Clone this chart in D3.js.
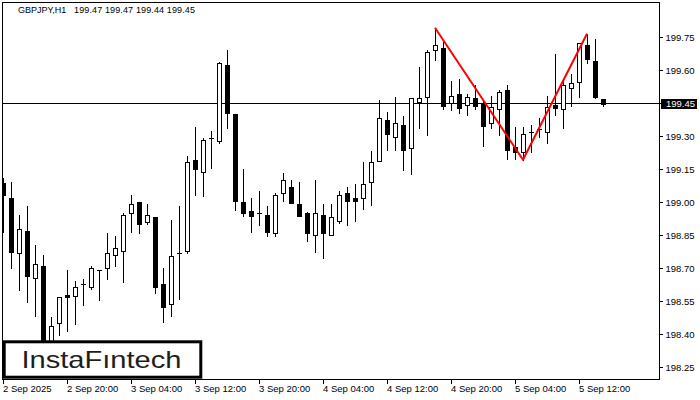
<!DOCTYPE html>
<html>
<head>
<meta charset="utf-8">
<script src="https://cdn.jsdelivr.net/npm/d3@7"></script>
<style>
  html, body { margin: 0; padding: 0; background: #fff; }
  svg { display: block; }
  text { font-family: "Liberation Sans", Arial, sans-serif; }
</style>
</head>
<body>
<svg id="chart" width="700" height="400"></svg>
<script>
// ---- data ----
const symbolName = "GBPJPY,H1";
const ohlcTitle = "199.47 199.47 199.44 199.45";
const currentPrice = 199.45;

const opens = [199.090,199.021,198.771,198.871,198.658,198.712,198.308,198.453,198.581,198.576,
  198.631,198.617,198.694,198.703,198.762,198.781,198.953,199.003,198.912,198.935,
  198.631,198.540,198.771,198.781,199.194,199.140,199.294,199.281,199.626,199.403,
  199.003,198.962,198.953,198.944,198.862,199.044,199.071,198.994,198.953,198.853,
  198.944,198.853,198.917,199.044,199.021,199.021,199.094,199.190,199.376,199.299,
  199.353,199.249,199.458,199.481,199.694,199.703,199.453,199.494,199.444,199.476,
  199.453,199.362,199.426,199.512,199.253,199.231,199.321,199.335,199.321,199.444,
  199.426,199.521,199.549,199.717,199.644,199.47];
const highs = [199.112,199.094,198.944,198.985,198.808,198.762,198.481,198.571,198.694,198.644,
  198.653,198.712,198.694,198.862,198.849,198.953,199.035,199.003,198.994,198.935,
  198.703,198.921,198.985,199.212,199.344,199.294,199.326,199.640,199.694,199.403,
  199.153,199.021,199.053,198.985,199.044,199.135,199.103,199.094,198.958,199.103,
  198.994,198.994,199.053,199.071,199.085,199.185,199.235,199.467,199.412,199.481,
  199.394,199.476,199.617,199.694,199.794,199.730,199.553,199.562,199.494,199.535,
  199.467,199.485,199.512,199.535,199.344,199.344,199.353,199.385,199.485,199.676,
  199.562,199.585,199.726,199.767,199.744,199.47];
const lows = [198.867,198.703,198.603,198.549,198.485,198.262,198.249,198.399,198.417,198.449,
  198.535,198.608,198.558,198.653,198.712,198.640,198.867,198.862,198.903,198.590,
  198.458,198.485,198.562,198.771,199.035,199.031,199.158,199.271,199.340,198.967,
  198.940,198.867,198.899,198.849,198.849,199.008,198.999,198.940,198.826,198.776,
  198.749,198.853,198.908,198.899,198.917,198.971,198.990,199.190,199.240,199.240,
  199.149,199.131,199.340,199.308,199.649,199.426,199.421,199.408,199.399,199.426,
  199.258,199.340,199.308,199.199,199.199,199.194,199.231,199.299,199.271,199.399,
  199.340,199.440,199.481,199.635,199.476,199.44];
const closes = [199.035,198.776,198.881,198.667,198.721,198.331,198.440,198.571,198.571,198.617,
  198.631,198.703,198.694,198.771,198.794,198.944,198.994,198.903,198.944,198.617,
  198.526,198.758,198.771,199.185,199.153,199.285,199.294,199.635,199.408,199.008,
  198.953,198.940,198.953,198.867,199.035,199.103,198.999,198.940,198.862,198.953,
  198.862,198.935,199.035,199.008,199.008,199.085,199.185,199.385,199.312,199.362,
  199.240,199.476,199.476,199.685,199.717,199.440,199.485,199.431,199.481,199.440,
  199.349,199.435,199.503,199.240,199.231,199.312,199.321,199.335,199.435,199.431,
  199.535,199.544,199.726,199.653,199.481,199.45];

const yTickValues = [198.25,198.40,198.55,198.70,198.85,199.00,199.15,199.30,199.45,199.60,199.75];
const xTickIndex = [0,8,16,24,32,40,48,56,64,72];
const xTickLabels = ["2 Sep 2025","2 Sep 20:00","3 Sep 04:00","3 Sep 12:00","3 Sep 20:00",
  "4 Sep 04:00","4 Sep 12:00","4 Sep 20:00","5 Sep 04:00","5 Sep 12:00"];

// double-top pattern line: candle index and price of each vertex
const patternIndex = [54, 65, 73];
const patternPrice = [199.794, 199.194, 199.767];

const logoText = "InstaF\u0131ntech";

// ---- layout ----
const W = 700, H = 400;
const plot = { left: 2.5, top: 2.5, right: 659.5, bottom: 379.5 };

const svg = d3.select("#chart");

const x = d3.scaleLinear().domain([0, 82]).range([3, 659]);
const y = d3.scaleLinear().domain([198.25, 199.75]).range([367.5, 37.5]);

svg.append("rect").attr("width", W).attr("height", H).attr("fill", "#fff");

svg.append("defs").append("clipPath").attr("id", "plotClip")
  .append("rect").attr("x", 3).attr("y", 3).attr("width", 656).attr("height", 376);

const g = svg.append("g").attr("clip-path", "url(#plotClip)").attr("shape-rendering", "crispEdges");

// current price line
const yc = Math.round(y(currentPrice) - 0.5) + 0.5;
g.append("line").attr("x1", 3).attr("x2", 659).attr("y1", yc).attr("y2", yc)
  .attr("stroke", "#000").attr("stroke-width", 1);

// candles
const idx = d3.range(opens.length);
const cg = g.append("g");
const candle = cg.selectAll("g.c").data(idx).join("g").attr("class", "c");

candle.append("line")
  .attr("x1", i => Math.round(x(i)) + 0.5)
  .attr("x2", i => Math.round(x(i)) + 0.5)
  .attr("y1", i => Math.round(y(highs[i])))
  .attr("y2", i => Math.round(y(lows[i])) + 1)
  .attr("stroke", "#000").attr("stroke-width", 1);

candle.each(function(i) {
  const sel = d3.select(this);
  const cx = Math.round(x(i));
  const yo = Math.round(y(opens[i])), ycl = Math.round(y(closes[i]));
  const top = Math.min(yo, ycl), bot = Math.max(yo, ycl);
  if (bot - top < 1) {
    sel.append("line").attr("x1", cx - 2).attr("x2", cx + 3)
      .attr("y1", top + 0.5).attr("y2", top + 0.5)
      .attr("stroke", "#000").attr("stroke-width", 1);
  } else {
    const bull = closes[i] > opens[i];
    sel.append("rect")
      .attr("x", cx - 1.5).attr("y", top + 0.5)
      .attr("width", 4).attr("height", bot - top)
      .attr("fill", bull ? "#fff" : "#000")
      .attr("stroke", "#000").attr("stroke-width", 1);
  }
});

// pattern line
const line = d3.line().x(d => x(d[0])).y(d => y(d[1]));
svg.append("path")
  .datum(patternIndex.map((v, k) => [v, patternPrice[k]]))
  .attr("d", line)
  .attr("fill", "none").attr("stroke", "#ff0000").attr("stroke-width", 2)
  .attr("stroke-linejoin", "miter");

// plot frame
svg.append("rect")
  .attr("x", plot.left).attr("y", plot.top)
  .attr("width", plot.right - plot.left).attr("height", plot.bottom - plot.top)
  .attr("fill", "none").attr("stroke", "#000").attr("stroke-width", 1)
  .attr("shape-rendering", "crispEdges");

// right axis
const yAxis = d3.axisRight(y).tickValues(yTickValues).tickSize(3).tickPadding(3)
  .tickFormat(d3.format(".2f"));
const ya = svg.append("g").attr("transform", `translate(${plot.right},0)`).call(yAxis);
ya.select(".domain").remove();
ya.selectAll(".tick line").attr("stroke", "#000").attr("shape-rendering", "crispEdges");
ya.selectAll(".tick").attr("transform", d => `translate(0,${Math.round(y(d) - 0.5) + 0.5})`);
ya.selectAll(".tick text").attr("font-size", 9.5).attr("font-family", "Liberation Sans, Arial, sans-serif")
  .attr("fill", "#000");

// current price box
svg.append("rect").attr("x", 661).attr("y", yc - 4.5).attr("width", 36).attr("height", 10)
  .attr("fill", "#000").attr("shape-rendering", "crispEdges");
svg.append("text").attr("x", 666).attr("y", yc).attr("dy", "0.34em")
  .attr("font-size", 9.5).attr("fill", "#fff").text(d3.format(".2f")(currentPrice));

// bottom axis
const xa = svg.append("g");
xTickIndex.forEach((ti, k) => {
  const px = Math.round(x(ti)) + 0.5;
  xa.append("line").attr("x1", px).attr("x2", px).attr("y1", plot.bottom).attr("y2", plot.bottom + 4)
    .attr("stroke", "#000").attr("shape-rendering", "crispEdges");
  xa.append("text").attr("x", Math.round(x(ti))).attr("y", 392)
    .attr("font-size", 9.5).attr("fill", "#000").text(xTickLabels[k]);
});

// title
svg.append("text").attr("x", 18).attr("y", 13).attr("font-size", 9)
  .attr("fill", "#000").text(symbolName);
svg.append("text").attr("x", 74).attr("y", 13).attr("font-size", 9)
  .attr("fill", "#000").attr("textLength", 121).attr("lengthAdjust", "spacing").text(ohlcTitle);

// logo
svg.append("rect").attr("x", 4.2).attr("y", 341.8).attr("width", 196.6).attr("height", 35.4)
  .attr("fill", "#fff").attr("stroke", "#000").attr("stroke-width", 3);
svg.append("text").attr("x", 21.5).attr("y", 367.5)
  .attr("font-family", "Inter, 'Noto Sans', sans-serif").attr("font-weight", 500)
  .attr("font-size", 24).attr("fill", "#1e1e1e")
  .attr("textLength", 160).attr("lengthAdjust", "spacingAndGlyphs")
  .text(logoText);
</script>
</body>
</html>
